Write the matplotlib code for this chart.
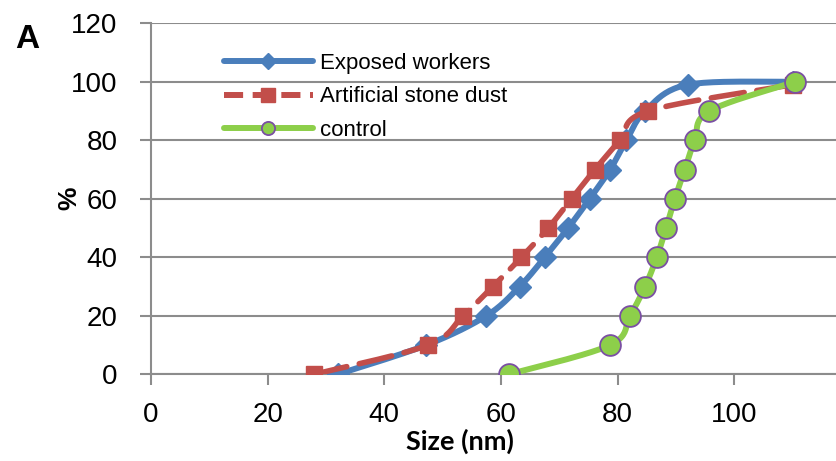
import numpy as np
import matplotlib
matplotlib.use('Agg')
import matplotlib.pyplot as plt
from matplotlib.lines import Line2D


# dados
exposed_x = [32, 47.2, 57.5, 63.2, 67.5, 71.5, 75.2, 78.7, 81.5, 84.7, 92, 110]
exposed_y = [0, 10, 20, 30, 40, 50, 60, 70, 80, 90, 99, 100]

stone_x = [28, 47.5, 53.5, 58.6, 63.5, 68.1, 72.1, 76.1, 80.4, 85.2, 110]
stone_y = [0, 10, 20, 30, 40, 50, 60, 70, 80, 90, 99]

control_x = [61.4, 78.7, 82.1, 84.7, 86.7, 88.3, 89.8, 91.5, 93.2, 95.7, 110.4]
control_y = [0, 10, 20, 30, 40, 50, 60, 70, 80, 90, 100]

labels = ['Exposed workers', 'Artificial stone dust', 'control']
x_ticks = [0, 20, 40, 60, 80, 100]
y_ticks = [0, 20, 40, 60, 80, 100, 120]


###############################################################################################
def suaviza(x, y, n=24):
    '''
    Curva suavizada estilo Excel (bezier com tangentes de Catmull-Rom).
    '''
    p = np.column_stack([x, y]).astype(float)
    p_ext = np.vstack([p[0], p, p[-1]])
    t = np.linspace(0, 1, n)[:, None]
    curva = []
    for i in range(len(p) - 1):
        p0, p1, p2, p3 = p_ext[i], p_ext[i + 1], p_ext[i + 2], p_ext[i + 3]
        c1 = p1 + (p2 - p0) / 6
        c2 = p2 - (p3 - p1) / 6
        seg = ((1 - t) ** 3) * p1 + 3 * ((1 - t) ** 2) * t * c1 + 3 * (1 - t) * t ** 2 * c2 + t ** 3 * p2
        curva.append(seg if i == 0 else seg[1:])
    curva = np.vstack(curva)
    return curva[:, 0], curva[:, 1]


plt.rcParams['font.family'] = ['Liberation Sans', 'DejaVu Sans']

fig = plt.figure(figsize=(8.37, 4.61), dpi=100)
W, H = 837, 461
x0, x1 = 151, 851
y_top, y_bot = 23.3, 374.3
ax = fig.add_axes([x0 / W, 1 - y_bot / H, (x1 - x0) / W, (y_bot - y_top) / H])

azul = '#4A7EBB'
vermelho = '#C24E4A'
verde = '#8DCF4A'
roxo = '#7A4FA3'
cinza = '#8C8C8C'

# exposed workers
sx, sy = suaviza(exposed_x, exposed_y)
ax.plot(sx, sy, color=azul, lw=4.3, solid_capstyle='round', zorder=3)
ax.plot(exposed_x, exposed_y, ls='none', marker='D', ms=11, color=azul, zorder=3)

# artificial stone dust
sx, sy = suaviza(stone_x, stone_y)
ax.plot(sx, sy, color=vermelho, lw=4.0, dashes=(6, 2.3), dash_capstyle='round', zorder=4)
ax.plot(stone_x, stone_y, ls='none', marker='s', ms=11.5, color=vermelho, zorder=4)

# controle
sx, sy = suaviza(control_x, control_y)
ax.plot(sx, sy, color=verde, lw=4.3, solid_capstyle='round', zorder=5)
ax.plot(control_x, control_y, ls='none', marker='o', ms=15, mfc=verde, mec=roxo, mew=1.3, zorder=5)

# legenda com handles proprios
handles = [
    Line2D([], [], color=azul, lw=4.3, marker='D', ms=8, solid_capstyle='round'),
    Line2D([], [], color=vermelho, lw=4.3, dashes=(3.2, 1.6), marker='s', ms=10),
    Line2D([], [], color=verde, lw=4.3, marker='o', ms=9.5, mfc=verde, mec=roxo, mew=1.3, solid_capstyle='round'),
]
fig.legend(handles, labels, loc='upper left', bbox_to_anchor=(224 / W, 1 - 52.5 / H),
           bbox_transform=fig.transFigure, frameon=False, fontsize=16, numpoints=1,
           handlelength=4.0, handletextpad=0.3, labelspacing=0.58, borderpad=0, borderaxespad=0)

ax.set_xlim(0, 120)
ax.set_ylim(0, 120)
ax.set_xticks(x_ticks)
ax.set_yticks(y_ticks)
ax.tick_params(axis='both', labelsize=20, color=cinza, width=1.5, length=8)
ax.tick_params(axis='y', pad=16)
ax.tick_params(axis='x', pad=12)
ax.yaxis.grid(True, color=cinza, lw=1.5)
ax.set_axisbelow(True)
for lado in ['top', 'right']:
    ax.spines[lado].set_visible(False)
for lado in ['left', 'bottom']:
    ax.spines[lado].set_color(cinza)
    ax.spines[lado].set_linewidth(1.5)

fig.text(460 / W, 1 - 441 / H, 'Size (nm)', ha='center', va='center', fontsize=19.5,
         fontweight='bold', family=['Lato', 'DejaVu Sans'])
fig.text(69 / W, 1 - 198 / H, '%', ha='center', va='center', fontsize=19,
         fontweight='bold', rotation=90)
fig.text(27 / W, 1 - 40 / H, 'A', ha='center', va='center', fontsize=24, fontweight='bold')

fig.savefig('out.png', dpi=100)
